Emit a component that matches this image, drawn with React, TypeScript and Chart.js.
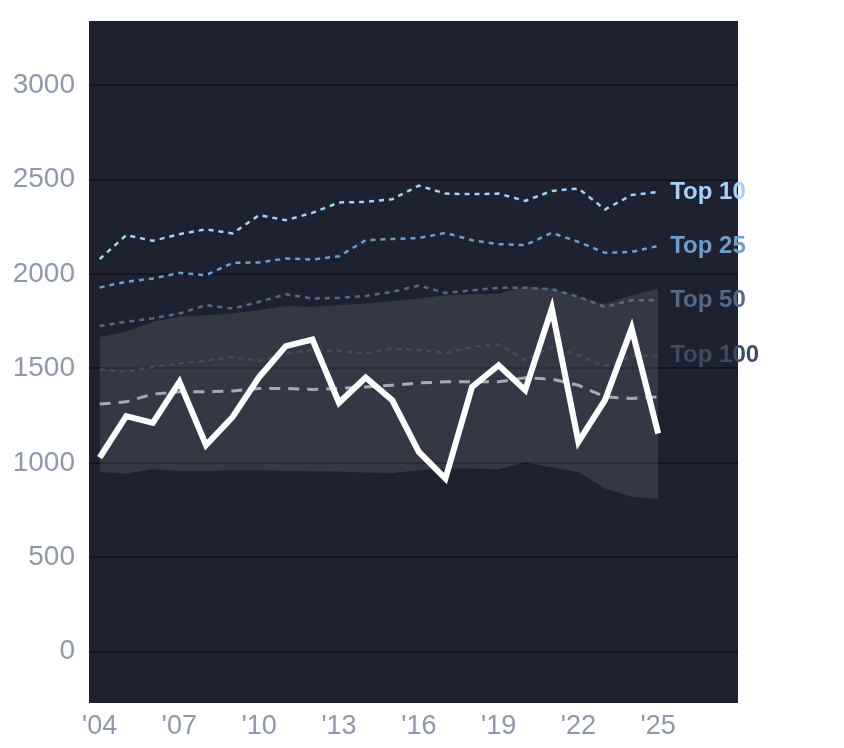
import { useEffect, useRef } from 'react';
import { Chart, registerables } from 'chart.js';

Chart.register(...registerables);

const years = [
  2004, 2005, 2006, 2007, 2008, 2009, 2010, 2011, 2012, 2013, 2014,
  2015, 2016, 2017, 2018, 2019, 2020, 2021, 2022, 2023, 2024, 2025,
];

// main series (white line)
const mainValues = [
  1028, 1247, 1212, 1429, 1094, 1243, 1455, 1618, 1653, 1318, 1452,
  1332, 1058, 917, 1402, 1517, 1385, 1817, 1111, 1332, 1712, 1155,
];

const medianValues = [
  1311, 1323, 1364, 1376, 1376, 1381, 1394, 1394, 1389, 1394, 1402,
  1411, 1423, 1429, 1429, 1429, 1450, 1443, 1411, 1349, 1341, 1349,
];

const bandUpper = [
  1667, 1694, 1747, 1773, 1782, 1791, 1808, 1831, 1826, 1835, 1844,
  1856, 1870, 1888, 1893, 1897, 1932, 1923, 1880, 1840, 1888, 1922,
];

const bandLower = [
  952, 944, 966, 957, 957, 961, 961, 957, 956, 954, 949,
  946, 961, 970, 970, 966, 1002, 975, 952, 864, 820, 808,
];

const top10 = [
  2079, 2206, 2176, 2211, 2237, 2215, 2312, 2285, 2324, 2379, 2382,
  2396, 2468, 2426, 2423, 2426, 2387, 2440, 2453, 2342, 2418, 2435,
];

const top25 = [
  1929, 1959, 1976, 2006, 1994, 2059, 2061, 2082, 2077, 2094, 2179,
  2186, 2190, 2218, 2179, 2158, 2153, 2218, 2170, 2112, 2117, 2149,
];

const top50 = [
  1725, 1747, 1765, 1791, 1835, 1817, 1853, 1893, 1870, 1874, 1884,
  1906, 1939, 1900, 1914, 1927, 1927, 1920, 1879, 1826, 1861, 1861,
];

const top100 = [
  1494, 1482, 1508, 1526, 1540, 1561, 1540, 1579, 1597, 1593, 1579,
  1606, 1598, 1582, 1614, 1627, 1544, 1614, 1570, 1512, 1565, 1569,
];

const tierLabels = ['Top 10', 'Top 25', 'Top 50', 'Top 100'];
const tierSeries = [top10, top25, top50, top100];
const tierColors = ['#a2d2fb', '#6d9fcc', '#55698a', '#3f4b62'];

const yTicks = [0, 500, 1000, 1500, 2000, 2500, 3000];
const xTicks = [2004, 2007, 2010, 2013, 2016, 2019, 2022, 2025];

const FONT = "Arimo, 'Liberation Sans', Arial, sans-serif";

const pts = (vals: number[]) => vals.map((v, i) => ({ x: years[i], y: v }));

const plotBg = {
  id: 'plotBg',
  beforeDraw(chart: Chart) {
    const { ctx, chartArea } = chart;
    ctx.save();
    ctx.fillStyle = '#1e2230';
    ctx.fillRect(chartArea.left, chartArea.top, chartArea.right - chartArea.left, chartArea.bottom - chartArea.top);
    ctx.restore();
  },
};

const endLabels = {
  id: 'endLabels',
  afterDatasetsDraw(chart: Chart) {
    const { ctx, scales } = chart;
    ctx.save();
    ctx.font = `bold 24px ${FONT}`;
    ctx.textAlign = 'left';
    ctx.textBaseline = 'middle';
    tierSeries.forEach((s, i) => {
      const last = s.length - 1;
      const x = scales.x.getPixelForValue(years[last]);
      const y = scales.y.getPixelForValue(s[last]);
      ctx.fillStyle = tierColors[i];
      ctx.fillText(tierLabels[i], x + 12, y);
    });
    ctx.restore();
  },
};

export default function App() {
  const canvasRef = useRef<HTMLCanvasElement>(null);
  const chartRef = useRef<Chart | null>(null);

  useEffect(() => {
    if (!canvasRef.current) return;
    const ctx = canvasRef.current.getContext('2d');
    if (!ctx) return;

    const tierDatasets = tierSeries.map((s, i) => ({
      label: tierLabels[i],
      data: pts(s),
      borderColor: tierColors[i],
      borderWidth: 2.5,
      borderDash: [5, 5],
      pointRadius: 0,
      fill: false,
      tension: 0,
      order: 3,
    }));

    chartRef.current = new Chart(ctx, {
      type: 'line',
      data: {
        datasets: [
          {
            label: 'main',
            data: pts(mainValues),
            borderColor: '#ffffff',
            borderWidth: 6,
            pointRadius: 0,
            fill: false,
            tension: 0,
            order: 0,
          },
          {
            label: 'median',
            data: pts(medianValues),
            borderColor: '#a3abb9',
            borderWidth: 3,
            borderDash: [11, 8],
            pointRadius: 0,
            fill: false,
            tension: 0,
            order: 1,
          },
          ...tierDatasets,
          {
            label: 'lower',
            data: pts(bandLower),
            borderWidth: 0,
            borderColor: 'transparent',
            pointRadius: 0,
            fill: false,
            order: 10,
          },
          {
            label: 'upper',
            data: pts(bandUpper),
            borderWidth: 0,
            borderColor: 'transparent',
            backgroundColor: 'rgba(255,255,255,0.1)',
            pointRadius: 0,
            fill: '-1',
            order: 10,
          },
        ],
      },
      options: {
        responsive: true,
        maintainAspectRatio: false,
        animation: false,
        layout: { padding: { top: 21, right: 106, left: 0, bottom: 0 } },
        plugins: {
          legend: { display: false },
          tooltip: { enabled: false },
        },
        scales: {
          x: {
            type: 'linear',
            min: 2003.6,
            max: 2028,
            afterBuildTicks: (scale) => {
              scale.ticks = xTicks.map((v) => ({ value: v }));
            },
            afterFit: (scale) => {
              scale.height = 45;
              scale.paddingLeft = 0;
              scale.paddingRight = 0;
            },
            grid: { display: false },
            border: { display: false },
            ticks: {
              color: '#8e98a9',
              font: { size: 27, family: FONT },
              padding: -1,
              maxRotation: 0,
              callback: (val) => `'${String(val).slice(2)}`,
            },
          },
          y: {
            min: -272,
            max: 3340,
            afterBuildTicks: (scale) => {
              scale.ticks = yTicks.map((v) => ({ value: v }));
            },
            afterFit: (scale) => {
              scale.width = 89;
              scale.paddingTop = 0;
              scale.paddingBottom = 0;
            },
            grid: { color: 'rgba(10,12,20,0.6)', lineWidth: 2, drawTicks: false },
            border: { display: false },
            ticks: {
              color: '#8e98a9',
              font: { size: 28, family: FONT },
              padding: 14,
              callback: (val) => String(val),
            },
          },
        },
      },
      plugins: [plotBg, endLabels],
    });

    return () => {
      if (chartRef.current) {
        chartRef.current.destroy();
        chartRef.current = null;
      }
    };
  }, []);

  return (
    <div style={{ position: 'fixed', left: 0, top: 0, width: 844, height: 748, background: '#ffffff' }}>
      <canvas ref={canvasRef} />
    </div>
  );
}
